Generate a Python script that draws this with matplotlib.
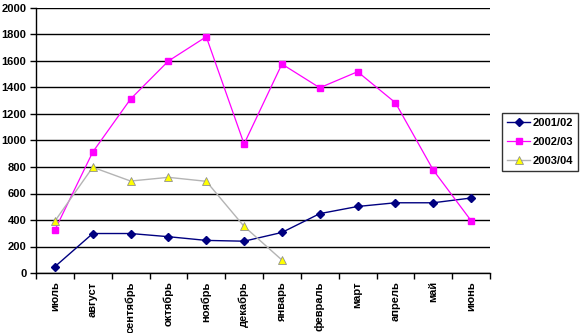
import matplotlib
matplotlib.use("Agg")
import matplotlib.pyplot as plt
import numpy as np

months = ["июль", "август", "сентябрь", "октябрь", "ноябрь", "декабрь",
          "январь", "февраль", "март", "апрель", "май", "июнь"]
s2001 = [48, 298, 298, 274, 246, 240, 306, 448, 502, 530, 530, 566]
s2002 = [325, 913, 1313, 1600, 1783, 974, 1577, 1398, 1519, 1285, 777, 395]
s2003 = [392, 798, 694, 722, 692, 352, 98]
series_names = ["2001/02", "2002/03", "2003/04"]

plt.rcParams['font.family'] = ['Liberation Sans', 'DejaVu Sans']
fig = plt.figure(figsize=(5.81, 3.33), dpi=100)
ax = fig.add_axes([36/581, 1-273/333, 454/581, 265/333])

x = np.arange(len(months))
ax.plot(x, s2001, color="#000080", lw=1, marker="D", ms=4, mfc="#000080", mec="#000080", label=series_names[0], zorder=3)
ax.plot(x, s2002, color="#FF00FF", lw=0.9, marker="s", ms=5, mfc="#FF00FF", mec="#FF00FF", label=series_names[1], zorder=3)
ax.plot(x[:len(s2003)], s2003, color="#B4B4B4", lw=1, marker="^", ms=5.5, mfc="#FFFF00", mec="#909090", mew=0.6, label=series_names[2], zorder=3)

ax.set_xlim(-0.5, len(months) - 0.5)
ax.set_ylim(0, 2000)
ax.set_yticks(np.arange(0, 2001, 200))
ax.set_yticklabels([str(v) for v in range(0, 2001, 200)], fontsize=8, fontweight="bold")
ax.yaxis.grid(True, color="black", lw=1)
ax.set_axisbelow(True)

ax.set_xticks(x)
ax.set_xticklabels(months, rotation=90, fontsize=8, fontweight="bold")
ax.tick_params(axis="x", length=0, pad=6)
ax.set_xticks(np.arange(-0.5, len(months), 1), minor=True)
ax.tick_params(axis="x", which="minor", length=4, width=1, color="black", direction="out")
ax.tick_params(axis="y", length=4, width=1, color="black", direction="out", pad=3)

for s in ["top", "right"]:
    ax.spines[s].set_visible(False)
for s in ["left", "bottom"]:
    ax.spines[s].set_color("black")
    ax.spines[s].set_linewidth(1)

leg = fig.legend(loc="upper left", bbox_to_anchor=(502/581, 1-113/333),
                 prop={"size": 8, "weight": "bold"}, frameon=True, fancybox=False,
                 edgecolor="black", borderpad=0.45, labelspacing=0.8, handlelength=2.1,
                 handletextpad=0.2, borderaxespad=0)
leg.get_frame().set_linewidth(1)

fig.savefig("out.png", dpi=100)
